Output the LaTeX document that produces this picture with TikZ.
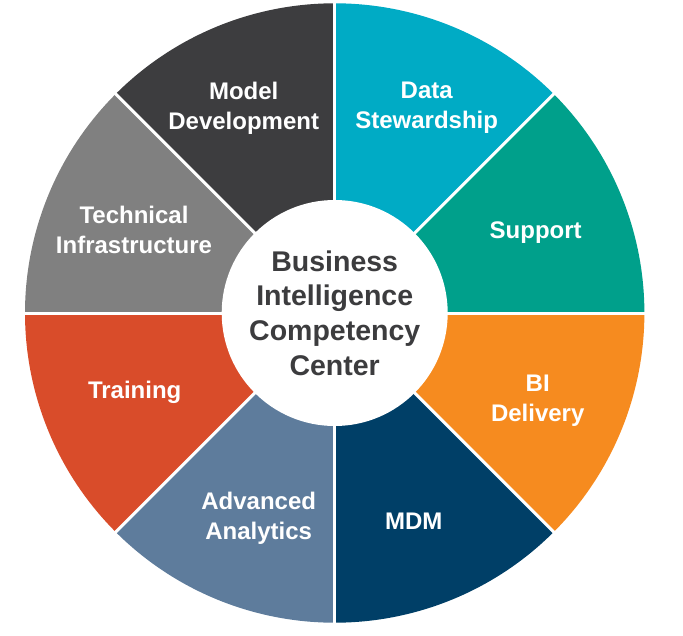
\documentclass[tikz,border=0pt]{standalone}
\usepackage{fontspec}
\setmainfont{Liberation Sans}
\usetikzlibrary{positioning}
\definecolor{segdark}{RGB}{61, 61, 63}
\definecolor{segcyan}{RGB}{0, 171, 197}
\definecolor{segteal}{RGB}{0, 160, 139}
\definecolor{segorange}{RGB}{246, 139, 31}
\definecolor{segnavy}{RGB}{0, 63, 103}
\definecolor{segslate}{RGB}{94, 124, 156}
\definecolor{segred}{RGB}{217, 76, 42}
\definecolor{seggray}{RGB}{128, 128, 128}
\definecolor{hubtext}{RGB}{60, 60, 62}
\tikzset{
    seglabel/.style={
        text=white, font=\bfseries\fontsize{24}{30}\selectfont, align=center, inner sep=0pt
    },
    gapline/.style={
        white, line width=3pt
    }
}

\begin{document}
\begin{tikzpicture}[
        x=1pt, y=1pt,
        % --- STYLE ---
        hub/.style={
            circle, fill=white, text=hubtext, align=center, inner sep=0pt,
            minimum size=226pt, font=\bfseries\fontsize{28.5}{34.7}\selectfont
        }
    ]
        \useasboundingbox (-334.7,-322) rectangle (348.3,313);

        % --- 1. SECTORS ---
        \foreach \s/\c in {45/segcyan, 0/segteal, -45/segorange, -90/segnavy,
                           -135/segslate, -180/segred, 135/seggray, 90/segdark}
            \fill[\c] (0,0) -- (\s:309.7) arc[start angle=\s, end angle=\s+45, radius=309.7] -- cycle;

        % --- 2. WHITE GAPS ---
        \foreach \a in {0,45,...,315}
            \draw[gapline] (0,0) -- (\a:314);

        % --- 3. HUB ---
        \node[hub] (bicc) at (0,0) {Business\\Intelligence\\Competency\\Center};

        % --- 4. SECTOR LABELS ---
        \node[seglabel] (model) at (-91,205) {Model\\Development};
        \node[seglabel] (stewardship) at (92,205) {Data\\Stewardship};
        \node[seglabel] (support) at (201,80) {Support};
        \node[seglabel] (delivery) at (203,-88) {BI\\Delivery};
        \node[seglabel] (mdm) at (79,-208) {MDM};
        \node[seglabel] (analytics) at (-76,-205) {Advanced\\Analytics};
        \node[seglabel] (training) at (-200,-79) {Training};
        \node[seglabel] (infra) at (-200.7,83) {Technical\\Infrastructure};

    \end{tikzpicture}
\end{document}
